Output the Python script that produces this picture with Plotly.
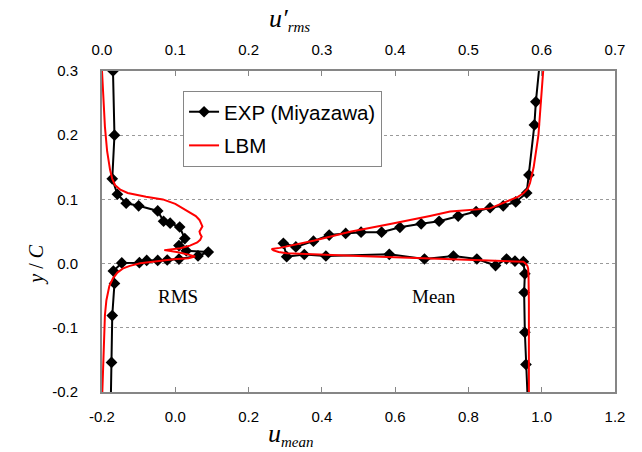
import plotly.graph_objects as go

# ---------------- data ----------------
exp_rms_y = [0.300, 0.200, 0.132, 0.108, 0.094, 0.090, 0.082, 0.066, 0.063, 0.057,
             0.039, 0.028, 0.020, 0.018, 0.012, 0.007, 0.0056, 0.005, 0.005, 0.0014,
             0.001, -0.0115, -0.031, -0.081, -0.154, -0.215]
exp_rms_u = [0.015, 0.017, 0.014, 0.021, 0.033, 0.050, 0.076, 0.084, 0.093, 0.106,
             0.113, 0.105, 0.115, 0.145, 0.131, 0.105, 0.089, 0.076, 0.061, 0.051,
             0.027, 0.0155, 0.017, 0.014, 0.013, 0.012]

exp_mean_y = [0.315, 0.252, 0.216, 0.138, 0.110, 0.096, 0.090, 0.087, 0.081, 0.074,
              0.066, 0.062, 0.0565, 0.049, 0.049, 0.047, 0.0445, 0.035, 0.026, 0.0316,
              0.0108, 0.0142, 0.0118, 0.0145, 0.0072, 0.0118, 0.0072, -0.003, 0.0072,
              0.004, 0.003, -0.016, -0.045, -0.107, -0.157, -0.215]
exp_mean_u = [0.995, 0.984, 0.980, 0.965, 0.959, 0.929, 0.895, 0.859, 0.821, 0.772,
              0.720, 0.671, 0.613, 0.563, 0.507, 0.465, 0.420, 0.377, 0.329, 0.295,
              0.304, 0.352, 0.411, 0.584, 0.680, 0.759, 0.823, 0.874, 0.904,
              0.927, 0.950, 0.954, 0.952, 0.954, 0.957, 0.962]

lbm_rms_y = [0.300, 0.250, 0.213, 0.175, 0.146, 0.132, 0.122, 0.115, 0.110, 0.104,
             0.100, 0.093, 0.086, 0.080, 0.074, 0.068, 0.062, 0.058, 0.054, 0.050,
             0.046, 0.042, 0.037, 0.033, 0.028, 0.024, 0.021, 0.018, 0.014, 0.011,
             0.0085, 0.0068, 0.0035, 0.0005, -0.0035, -0.0073, -0.014, -0.023,
             -0.035, -0.057, -0.080, -0.109, -0.150, -0.197, -0.215]
lbm_rms_u = [0.000, 0.002, 0.004, 0.007, 0.011, 0.014, 0.018, 0.025, 0.035, 0.060,
             0.083, 0.100, 0.111, 0.120, 0.128, 0.133, 0.136, 0.137, 0.135, 0.133,
             0.134, 0.136, 0.134, 0.130, 0.120, 0.107, 0.085, 0.102, 0.118, 0.127,
             0.118, 0.098, 0.075, 0.052, 0.038, 0.029, 0.021, 0.015,
             0.010, 0.006, 0.004, 0.003, 0.0015, 0.0005, 0.000]

lbm_mean_y = [0.300, 0.200, 0.150, 0.1255, 0.1165, 0.1095, 0.104, 0.099, 0.093,
              0.086, 0.081, 0.074, 0.062, 0.0497, 0.036, 0.028, 0.0245, 0.0227,
              0.0205, 0.018, 0.016, 0.012, 0.0072, 0.0056, 0.003, -0.0005, -0.0037,
              -0.008, -0.018, -0.060, -0.215]
lbm_mean_u = [1.004, 0.991, 0.978, 0.968, 0.962, 0.950, 0.935, 0.913, 0.888,
              0.859, 0.750, 0.695, 0.590, 0.477, 0.380, 0.320, 0.285, 0.263,
              0.268, 0.282, 0.304, 0.500, 0.750, 0.859, 0.950, 0.957, 0.961,
              0.963, 0.964, 0.965, 0.965]

mean_ticks = [-0.2, 0.0, 0.2, 0.4, 0.6, 0.8, 1.0, 1.2]
mean_labels = ["-0.2", "0.0", "0.2", "0.4", "0.6", "0.8", "1.0", "1.2"]
rms_ticks = [0.0, 0.1, 0.2, 0.3, 0.4, 0.5, 0.6, 0.7]
rms_labels = ["0.0", "0.1", "0.2", "0.3", "0.4", "0.5", "0.6", "0.7"]
y_ticks = [-0.2, -0.1, 0.0, 0.1, 0.2, 0.3]
y_labels = ["-0.2", "-0.1", "0.0", "0.1", "0.2", "0.3"]

# ---------------- figure ----------------
SANS = "Liberation Sans, Arial, sans-serif"
SERIF = "Liberation Serif, Times New Roman, serif"
GREY = "#868686"

exp_line = dict(color="black", width=2)
exp_marker = dict(symbol="diamond", size=9, color="black")
lbm_line = dict(color="#ff0000", width=2)

fig = go.Figure()
fig.add_trace(go.Scatter(x=exp_rms_u, y=exp_rms_y, xaxis="x2", yaxis="y",
                         mode="lines+markers", line=exp_line, marker=exp_marker,
                         name="EXP (Miyazawa)", legendgroup="exp", showlegend=True))
fig.add_trace(go.Scatter(x=exp_mean_u, y=exp_mean_y, xaxis="x", yaxis="y",
                         mode="lines+markers", line=exp_line, marker=exp_marker,
                         name="EXP (Miyazawa)", legendgroup="exp", showlegend=False))
fig.add_trace(go.Scatter(x=lbm_rms_u, y=lbm_rms_y, xaxis="x2", yaxis="y",
                         mode="lines", line=lbm_line,
                         name="LBM", legendgroup="lbm", showlegend=True))
fig.add_trace(go.Scatter(x=lbm_mean_u, y=lbm_mean_y, xaxis="x", yaxis="y",
                         mode="lines", line=lbm_line,
                         name="LBM", legendgroup="lbm", showlegend=False))

axis_common = dict(showline=True, linecolor=GREY, linewidth=2, zeroline=False,
                   tickfont=dict(family=SANS, size=15, color="black"))

fig.update_layout(
    width=642, height=452, autosize=False,
    margin=dict(l=102, r=27, t=71, b=60, pad=0),
    paper_bgcolor="white", plot_bgcolor="white",
    xaxis=dict(range=[-0.2, 1.2], tickvals=mean_ticks, ticktext=mean_labels,
               ticks="inside", ticklen=5, tickcolor=GREY, tickwidth=1,
               showgrid=False, ticklabelstandoff=10, **axis_common),
    xaxis2=dict(range=[0.0, 0.7], tickvals=rms_ticks, ticktext=rms_labels,
                overlaying="x", side="top", anchor="y",
                ticks="inside", ticklen=5, tickcolor=GREY, tickwidth=1,
                showgrid=False, ticklabelstandoff=8, **axis_common),
    yaxis=dict(range=[-0.2, 0.3], tickvals=y_ticks, ticktext=y_labels,
               ticks="", showgrid=True, gridcolor="#9a9a9a", gridwidth=1,
               griddash="dot", mirror=True, ticklabelstandoff=19, **axis_common),
    legend=dict(x=0.158, y=0.938, xanchor="left", yanchor="top",
                bgcolor="white", bordercolor=GREY, borderwidth=1,
                font=dict(family=SANS, size=20.5, color="black"),
                traceorder="grouped", tracegroupgap=4),
    showlegend=True,
)

annotations = [
    dict(text="<i>u</i><sub><span style='font-size:15px'><i>mean</i></span></sub>",
         xref="paper", yref="paper", x=0.368, y=-0.078, xanchor="center", yanchor="top",
         showarrow=False, font=dict(family=SERIF, size=26, color="black")),
    dict(text="<i>u′</i><sub><span style='font-size:15px'><i>rms</i></span></sub>",
         xref="paper", yref="paper", x=0.366, y=1.105, xanchor="center", yanchor="bottom",
         showarrow=False, font=dict(family=SERIF, size=26, color="black")),
    dict(text="<i>y</i> / <i>C</i>", xref="paper", yref="paper", x=-0.127, y=0.396,
         xanchor="center", yanchor="middle", textangle=-90, showarrow=False,
         font=dict(family=SERIF, size=20, color="black")),
    dict(text="RMS", xref="x", yref="y", x=0.007, y=-0.052, showarrow=False,
         font=dict(family=SERIF, size=19, color="black")),
    dict(text="Mean", xref="x", yref="y", x=0.706, y=-0.052, showarrow=False,
         font=dict(family=SERIF, size=19, color="black")),
]
fig.update_layout(annotations=annotations)

fig.write_html("out.html")
